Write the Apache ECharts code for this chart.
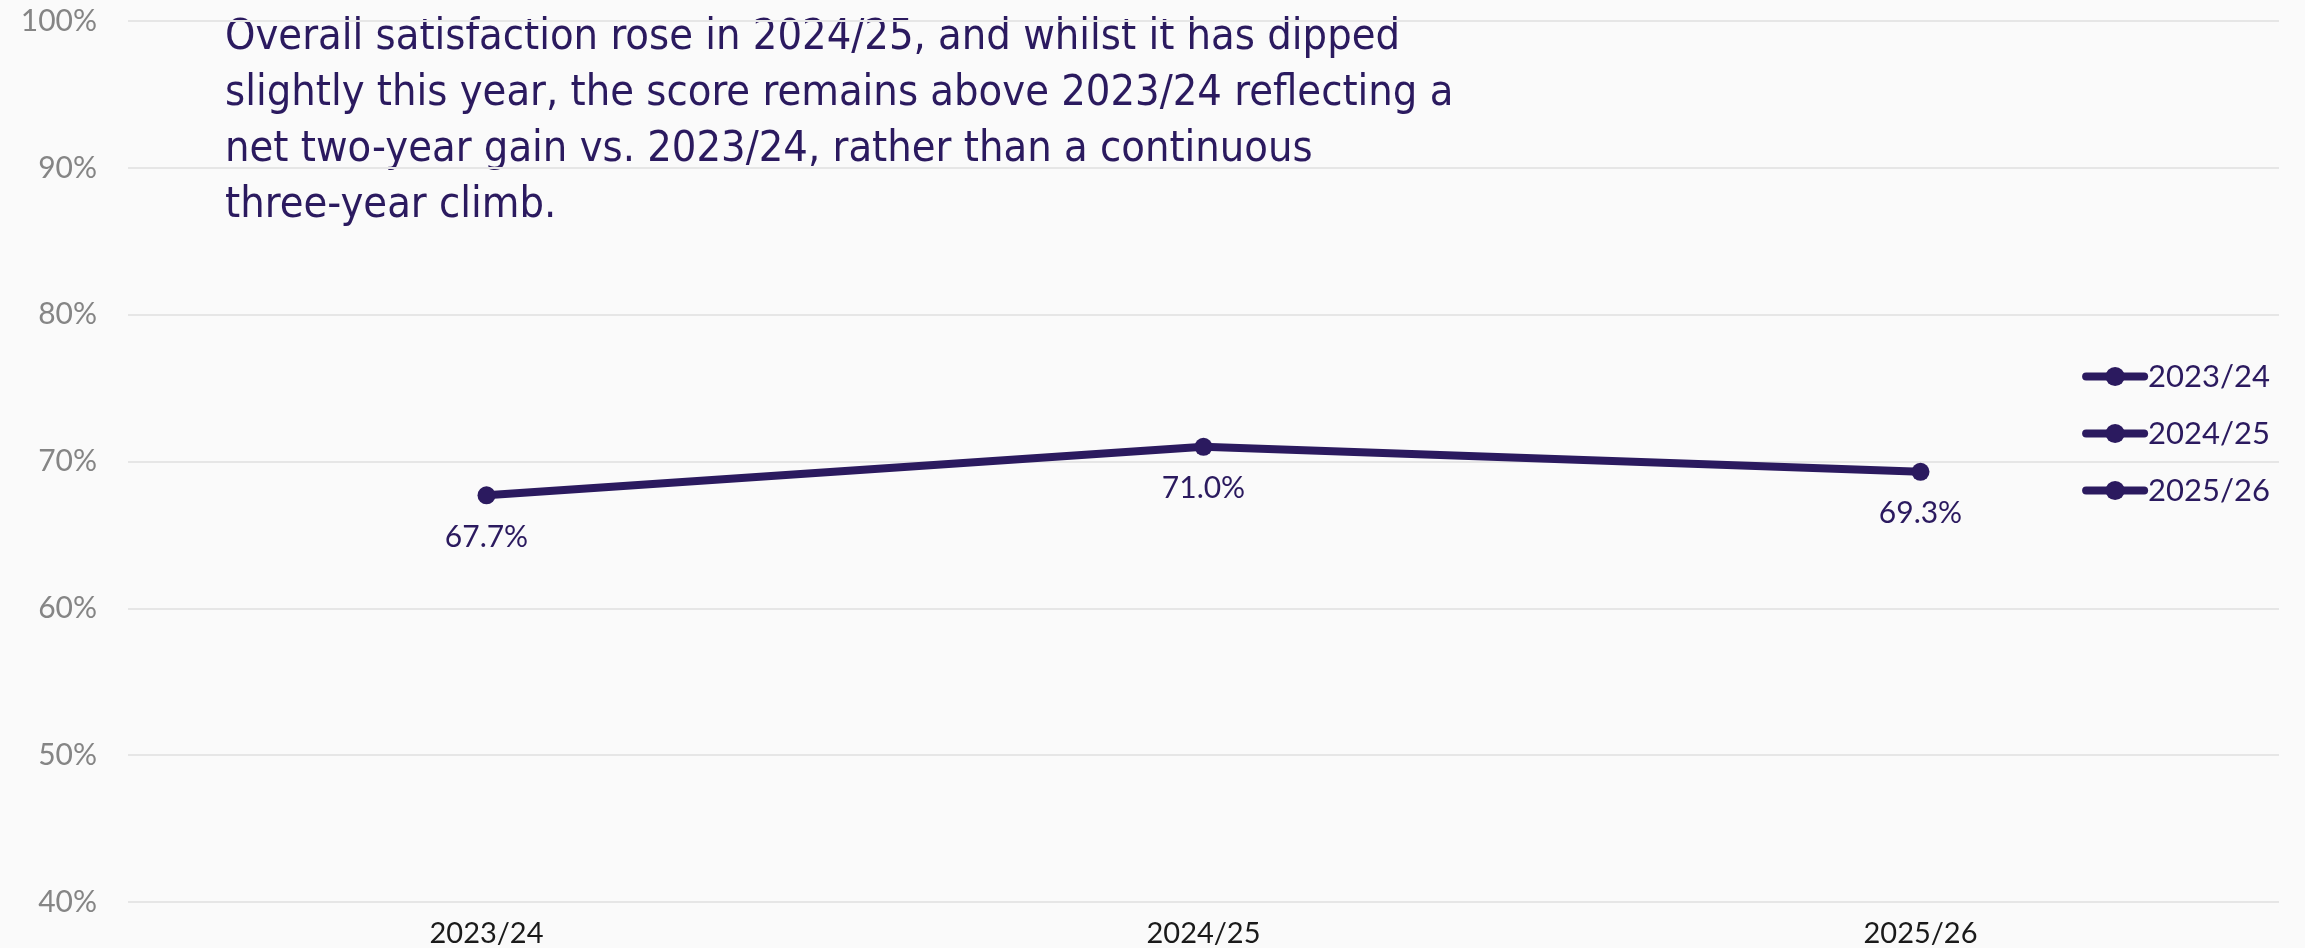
<!DOCTYPE html>
<html>
<head>
<meta charset="utf-8">
<title>Overall satisfaction</title>
<script src="https://cdn.jsdelivr.net/npm/echarts@6/dist/echarts.min.js"></script>
<style>
  html, body { margin: 0; padding: 0; background: #fafafa; }
  #chart { width: 2305px; height: 948px; }
</style>
</head>
<body>
<div id="chart"></div>
<script>
// Survey years and overall satisfaction score (%)
const years = ['2023/24', '2024/25', '2025/26'];
const satisfaction = [67.7, 71.0, 69.3];
const yTicks = [40, 50, 60, 70, 80, 90, 100];
const commentary = [
  'Overall satisfaction rose in 2024/25, and whilst it has dipped',
  'slightly this year, the score remains above 2023/24 reflecting a',
  'net two-year gain vs. 2023/24, rather than a continuous',
  'three-year climb.'
];

const ink = '#2b1a5f';
const labelFont = 'Lato, "Noto Sans", sans-serif';

const chart = echarts.init(document.getElementById('chart'), null, { renderer: 'canvas' });

// One legend entry per year, all in the series colour
const legendSeries = years.map(y => ({
  name: y,
  type: 'line',
  data: [],
  color: ink,
  symbol: 'circle',
  symbolSize: 18,
  lineStyle: { width: 8, color: ink, cap: 'round' },
  itemStyle: { color: ink }
}));

chart.setOption({
  backgroundColor: '#fafafa',
  animation: false,
  grid: { left: 128, right: 26, top: 21, bottom: 45 },
  legend: {
    data: years,
    orient: 'vertical',
    right: 30,
    top: 356,
    itemWidth: 58,
    itemHeight: 24,
    itemGap: 26,
    lineStyle: { width: 8, color: ink, cap: 'round' },
    textStyle: { fontFamily: labelFont, fontSize: 31, color: ink, padding: [0, 0, 0, -1] }
  },
  xAxis: {
    type: 'category',
    data: years,
    boundaryGap: true,
    axisLine: { show: false },
    axisTick: { show: false },
    axisLabel: { fontFamily: labelFont, fontSize: 29, color: '#1a1a1a', margin: 17 }
  },
  yAxis: {
    type: 'value',
    min: yTicks[0],
    max: yTicks[yTicks.length - 1],
    interval: 10,
    axisLine: { show: false },
    axisTick: { show: false },
    axisLabel: {
      fontFamily: labelFont, fontSize: 30, color: '#858585', margin: 31,
      formatter: v => v + '%'
    },
    splitLine: { lineStyle: { color: '#e6e6e6', width: 2 } }
  },
  series: [
    {
      name: 'Overall satisfaction',
      type: 'line',
      data: satisfaction,
      color: ink,
      symbol: 'circle',
      symbolSize: 18,
      lineStyle: { width: 8, color: ink },
      itemStyle: { color: ink },
      label: {
        show: true,
        position: 'bottom',
        distance: 18,
        fontFamily: labelFont,
        fontSize: 30,
        color: ink,
        formatter: p => p.value.toFixed(1) + '%'
      }
    },
    ...legendSeries
  ],
  graphic: [{
    type: 'text',
    left: 225,
    top: 10,
    style: {
      text: commentary.join('\n'),
      font: '43px "DejaVu Sans Condensed", sans-serif',
      lineHeight: 56,
      fill: ink
    }
  }]
});
</script>
</body>
</html>
